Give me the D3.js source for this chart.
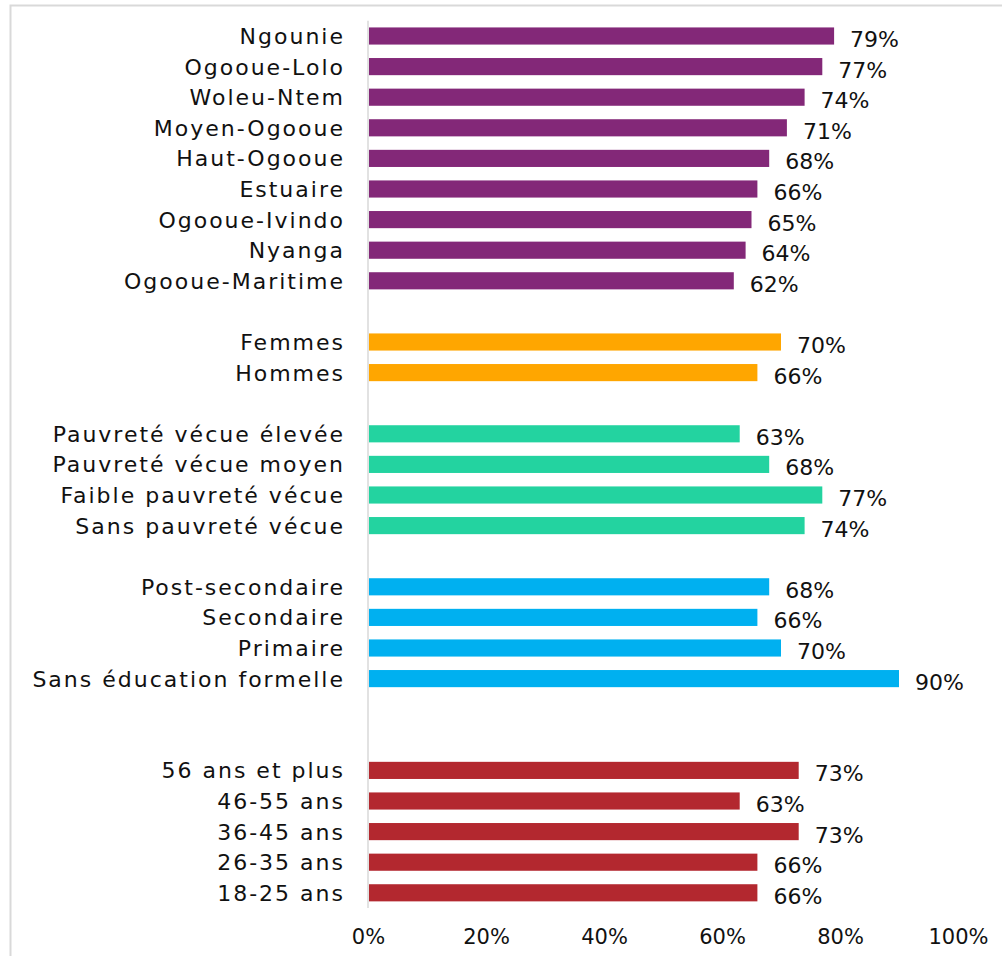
<!DOCTYPE html>
<html>
<head>
<meta charset="utf-8">
<script src="https://cdn.jsdelivr.net/npm/d3@7"></script>
<style>
  html, body { margin: 0; padding: 0; background: #fff; }
  svg { display: block; }
  text { font-family: "DejaVu Sans", sans-serif; fill: #111; }
</style>
</head>
<body>
<svg id="chart" width="1002" height="956"></svg>
<script>
// Groups, top to bottom
const regions = ["Ngounie", "Ogooue-Lolo", "Woleu-Ntem", "Moyen-Ogooue", "Haut-Ogooue", "Estuaire", "Ogooue-Ivindo", "Nyanga", "Ogooue-Maritime"];
const regionValues = [79, 77, 74, 71, 68, 66, 65, 64, 62];

const genders = ["Femmes", "Hommes"];
const genderValues = [70, 66];

const poverty = ["Pauvreté vécue élevée", "Pauvreté vécue moyen", "Faible pauvreté vécue", "Sans pauvreté vécue"];
const povertyValues = [63, 68, 77, 74];

const education = ["Post-secondaire", "Secondaire", "Primaire", "Sans éducation formelle"];
const educationValues = [68, 66, 70, 90];

const ages = ["56 ans et plus", "46-55 ans", "36-45 ans", "26-35 ans", "18-25 ans"];
const ageValues = [73, 63, 73, 66, 66];

const tickValues = [0, 20, 40, 60, 80, 100];
const tickLabels = ["0%", "20%", "40%", "60%", "80%", "100%"];

const groupColors = ["#832878", "#FFA600", "#23D3A0", "#00B0F0", "#B3282F"];

// Assemble rows with empty spacer slots between groups
const groups = [
  { cats: regions, vals: regionValues, gapAfter: 1 },
  { cats: genders, vals: genderValues, gapAfter: 1 },
  { cats: poverty, vals: povertyValues, gapAfter: 1 },
  { cats: education, vals: educationValues, gapAfter: 2 },
  { cats: ages, vals: ageValues, gapAfter: 0 }
];
const slots = [];
const rows = [];
groups.forEach((g, gi) => {
  g.cats.forEach((c, i) => {
    slots.push(c);
    rows.push({ label: c, value: g.vals[i], color: groupColors[gi] });
  });
  for (let k = 0; k < g.gapAfter; k++) slots.push("__gap" + gi + "_" + k);
});

const svg = d3.select("#chart");

// Outer chart frame
svg.append("rect")
  .attr("x", 10.5).attr("y", 5.5)
  .attr("width", 1010).attr("height", 1000)
  .attr("fill", "none").attr("stroke", "#d9d9d9").attr("stroke-width", 2);

const x = d3.scaleLinear().domain([0, 100]).range([368, 958]);
const y = d3.scaleBand().domain(slots).range([20.7, 908.1]).paddingInner(0.44).paddingOuter(0.22);

// Vertical category axis line
svg.append("line")
  .attr("x1", x(0)).attr("x2", x(0))
  .attr("y1", 20.7).attr("y2", 908.1)
  .attr("stroke", "#d9d9d9").attr("stroke-width", 1.5);

// Bars
svg.selectAll("rect.bar").data(rows).join("rect")
  .attr("class", "bar")
  .attr("x", x(0) + 1)
  .attr("y", d => y(d.label))
  .attr("width", d => x(d.value) - x(0) - 1)
  .attr("height", y.bandwidth())
  .attr("fill", d => d.color);

// Category labels
svg.selectAll("text.cat").data(rows).join("text")
  .attr("class", "cat")
  .attr("x", 345)
  .attr("y", d => y(d.label) + y.bandwidth() / 2)
  .attr("dy", "0.36em")
  .attr("text-anchor", "end")
  .style("font-size", "22px")
  .style("letter-spacing", "2px")
  .text(d => d.label);

// Value labels
svg.selectAll("text.val").data(rows).join("text")
  .attr("class", "val")
  .attr("x", d => x(d.value) + 16)
  .attr("y", d => y(d.label) + y.bandwidth() / 2 + 3)
  .attr("dy", "0.36em")
  .style("font-size", "22px")
  .text(d => d.value + "%");

// Value axis tick labels (no axis line)
const axis = d3.axisBottom(x).tickValues(tickValues)
  .tickFormat((d, i) => tickLabels[i]).tickSize(0).tickPadding(0);
const gAxis = svg.append("g").attr("transform", "translate(0,929)").call(axis);
gAxis.select(".domain").remove();
gAxis.selectAll("text")
  .attr("dy", "0.71em")
  .style("font-family", "\"DejaVu Sans\", sans-serif")
  .style("font-size", "21px")
  .attr("fill", "#111");
</script>
</body>
</html>
